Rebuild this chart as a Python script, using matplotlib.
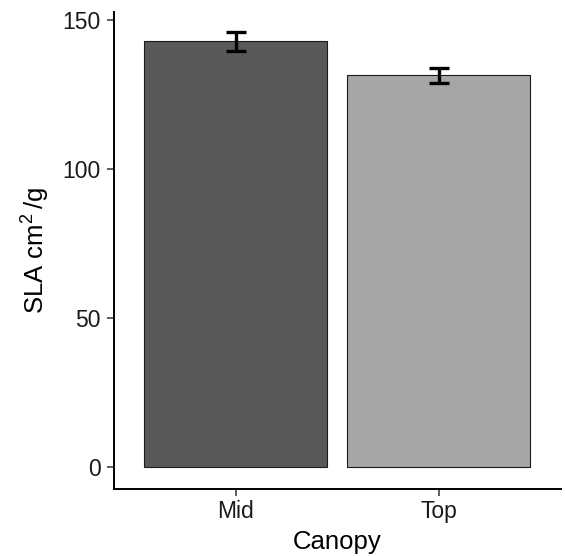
import numpy as np
import matplotlib.pyplot as plt

plt.rcParams['font.family'] = ['Liberation Sans', 'DejaVu Sans']
plt.rcParams['mathtext.default'] = 'regular'

# Data
canopy = ['Mid', 'Top']
sla_mean = [142.8, 131.4]
sla_se = [3.1, 2.6]
bar_colors = ['#595959', '#a6a6a6']

fig = plt.figure(figsize=(5.65, 5.56), dpi=100)
ax = fig.add_axes([113.5 / 565, 67 / 556, (561 - 113.5) / 565, (544 - 67) / 556])

x = np.arange(1, len(canopy) + 1)
ax.bar(x, sla_mean, width=0.9, color=bar_colors, edgecolor='#1a1a1a', linewidth=0.8, zorder=2)
ax.errorbar(x, sla_mean, yerr=sla_se, fmt='none', ecolor='black',
            elinewidth=2.4, capsize=7.2, capthick=2.4, zorder=3)

ax.set_xlim(0.4, 2.6)
ax.set_ylim(-7.4, 152.7)
ax.set_xticks(x)
ax.set_xticklabels(canopy)
ax.set_yticks([0, 50, 100, 150])

for side in ['top', 'right']:
    ax.spines[side].set_visible(False)
for side in ['left', 'bottom']:
    ax.spines[side].set_linewidth(1.4)
    ax.spines[side].set_color('black')

ax.tick_params(axis='both', length=5, width=1.1, color='#333333',
               labelsize=16.5, labelcolor='#1a1a1a')
ax.tick_params(axis='y', pad=4)
ax.tick_params(axis='x', pad=3)

ax.set_xlabel('Canopy', fontsize=18.5, labelpad=5)
ax.set_ylabel('SLA cm$^2\\,$/g', fontsize=18.5, labelpad=8)

fig.savefig('out.png', dpi=100)
